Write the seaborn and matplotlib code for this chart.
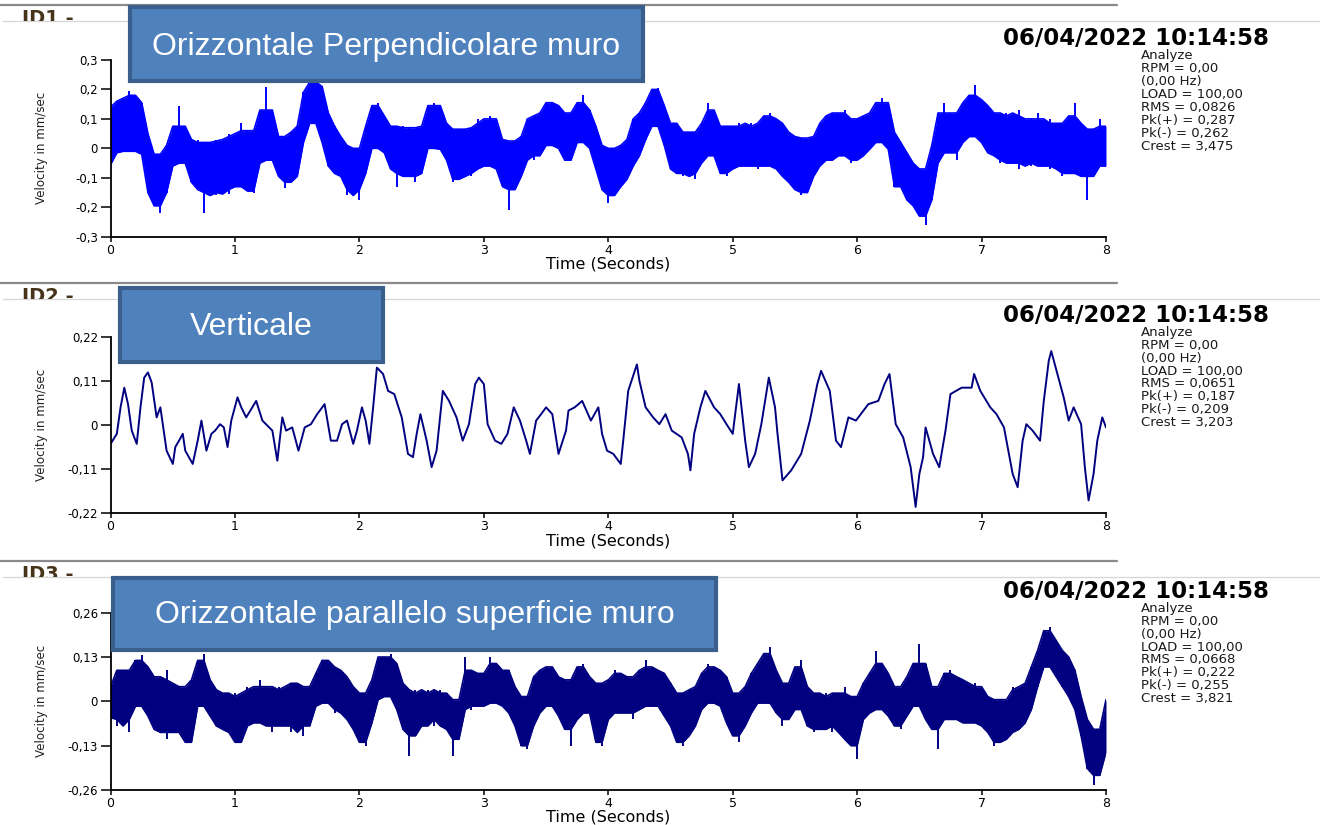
import numpy as np
import matplotlib
matplotlib.use("Agg")
import matplotlib.pyplot as plt
from matplotlib.patches import Rectangle
from matplotlib.lines import Line2D
from matplotlib.transforms import Bbox, TransformedBbox
import seaborn as sns

sns.set_theme(style="ticks")
plt.rcParams["font.family"] = ["DejaVu Sans"]

# ---------------------------------------------------------------------------
# Recorded velocity traces (mm/s), 8 s windows
# ---------------------------------------------------------------------------
SAMPLE_STEP = 0.05  # s between envelope samples of the dense channels

# ID1 - horizontal, perpendicular to the wall: upper / lower envelope
id1_upper = [
    0.14, 0.16, 0.17, 0.195, 0.18, 0.155, 0.05, -0.02, -0.045, 0.01,
    0.075, 0.145, 0.075, 0.02, 0.03, 0.0, 0.02, 0.03, 0.025, 0.05,
    0.04, 0.085, 0.06, 0.035, 0.13, 0.21, 0.13, 0.04, 0.02, 0.055,
    0.075, 0.19, 0.225, 0.23, 0.21, 0.12, 0.075, 0.04, 0.01, 0.0,
    -0.015, 0.075, 0.145, 0.155, 0.11, 0.075, 0.05, 0.075, 0.07, 0.04,
    0.075, 0.145, 0.155, 0.145, 0.085, 0.055, 0.065, 0.065, 0.07, 0.1,
    0.085, 0.11, 0.1, 0.03, 0.0, 0.025, 0.04, 0.1, 0.11, 0.12,
    0.155, 0.155, 0.145, 0.11, 0.12, 0.155, 0.18, 0.13, 0.075, 0.01,
    -0.015, 0.0, 0.01, 0.03, 0.1, 0.12, 0.155, 0.2, 0.205, 0.145,
    0.085, 0.085, 0.055, 0.055, 0.055, 0.085, 0.155, 0.13, 0.075, 0.065,
    0.075, 0.085, 0.075, 0.085, 0.075, 0.11, 0.12, 0.1, 0.085, 0.055,
    0.04, 0.035, 0.02, 0.04, 0.085, 0.11, 0.12, 0.12, 0.13, 0.085,
    0.1, 0.11, 0.12, 0.155, 0.17, 0.155, 0.055, 0.02, -0.015, -0.05,
    -0.07, -0.095, 0.01, 0.12, 0.155, 0.12, 0.12, 0.155, 0.18, 0.215,
    0.165, 0.145, 0.12, 0.11, 0.12, 0.11, 0.13, 0.085, 0.1, 0.12,
    0.085, 0.1, 0.085, 0.075, 0.11, 0.155, 0.085, 0.02, 0.065, 0.1,
    0.075,
]
id1_lower = [
    -0.055, -0.015, -0.01, 0.01, -0.01, -0.02, -0.15, -0.195, -0.22, -0.15,
    -0.06, 0.01, -0.05, -0.115, -0.14, -0.22, -0.15, -0.16, -0.14, -0.155,
    -0.13, -0.115, -0.145, -0.15, -0.05, 0.05, -0.04, -0.095, -0.135, -0.115,
    -0.095, 0.02, 0.085, 0.1, 0.02, -0.06, -0.085, -0.095, -0.16, -0.14,
    -0.175, -0.085, 0.0, 0.01, -0.015, -0.07, -0.13, -0.085, -0.095, -0.115,
    -0.085, 0.0, 0.01, -0.003, -0.04, -0.115, -0.105, -0.085, -0.095, -0.07,
    -0.06, -0.05, -0.07, -0.13, -0.21, -0.14, -0.095, -0.025, -0.04, -0.025,
    0.02, 0.01, 0.0, -0.04, -0.04, 0.02, 0.03, 0.0, -0.07, -0.14,
    -0.185, -0.16, -0.13, -0.105, -0.06, -0.025, 0.03, 0.075, 0.075, 0.01,
    -0.07, -0.085, -0.095, -0.085, -0.105, -0.05, 0.0, -0.025, -0.085, -0.095,
    -0.07, -0.06, -0.06, -0.05, -0.07, -0.06, -0.04, -0.07, -0.095, -0.115,
    -0.14, -0.16, -0.15, -0.095, -0.06, -0.04, -0.04, -0.025, -0.015, -0.05,
    -0.04, -0.025, -0.003, 0.02, 0.055, -0.003, -0.13, -0.13, -0.175, -0.195,
    -0.23, -0.26, -0.175, -0.05, 0.008, -0.015, -0.04, 0.02, 0.04, 0.055,
    0.02, -0.015, -0.025, -0.05, -0.04, -0.05, -0.07, -0.05, -0.06, -0.04,
    -0.06, -0.07, -0.05, -0.095, -0.085, 0.02, -0.095, -0.175, -0.095, -0.04,
    -0.06,
]

# ID2 - vertical: trace vertices (time in s, velocity in mm/s)
id2_time = [
    0.00, 0.05, 0.08, 0.11, 0.14, 0.17, 0.21, 0.24, 0.27, 0.30,
    0.33, 0.37, 0.40, 0.45, 0.50, 0.52, 0.55, 0.58, 0.60, 0.66,
    0.70, 0.73, 0.77, 0.81, 0.84, 0.88, 0.91, 0.94, 0.97, 1.02,
    1.05, 1.09, 1.17, 1.22, 1.30, 1.34, 1.38, 1.41, 1.46, 1.51,
    1.56, 1.61, 1.66, 1.72, 1.77, 1.82, 1.86, 1.90, 1.95, 1.98,
    2.02, 2.05, 2.08, 2.11, 2.14, 2.19, 2.23, 2.28, 2.34, 2.39,
    2.43, 2.46, 2.49, 2.54, 2.58, 2.62, 2.67, 2.72, 2.78, 2.83,
    2.88, 2.93, 2.96, 3.00, 3.03, 3.09, 3.14, 3.19, 3.24, 3.29,
    3.34, 3.37, 3.42, 3.46, 3.50, 3.55, 3.60, 3.66, 3.68, 3.73,
    3.79, 3.86, 3.92, 3.95, 3.99, 4.04, 4.10, 4.12, 4.16, 4.23,
    4.25, 4.30, 4.36, 4.41, 4.46, 4.51, 4.59, 4.64, 4.66, 4.69,
    4.74, 4.78, 4.85, 4.90, 4.95, 5.00, 5.05, 5.10, 5.13, 5.18,
    5.23, 5.29, 5.34, 5.36, 5.40, 5.47, 5.55, 5.62, 5.68, 5.71,
    5.78, 5.83, 5.87, 5.93, 5.99, 6.09, 6.17, 6.22, 6.26, 6.31,
    6.37, 6.43, 6.47, 6.50, 6.53, 6.55, 6.61, 6.66, 6.71, 6.75,
    6.84, 6.92, 6.94, 6.99, 7.07, 7.12, 7.18, 7.20, 7.25, 7.29,
    7.33, 7.36, 7.41, 7.47, 7.50, 7.54, 7.56, 7.61, 7.66, 7.70,
    7.74, 7.80, 7.83, 7.86, 7.90, 7.93, 7.97, 8.00,
]
id2_velocity = [
    -0.047, -0.022, 0.044, 0.093, 0.052, -0.014, -0.047, 0.044, 0.118, 0.131,
    0.106, 0.019, 0.044, -0.064, -0.097, -0.055, -0.039, -0.022, -0.064, -0.097,
    -0.039, 0.011, -0.064, -0.022, -0.014, 0.002, -0.006, -0.055, 0.011, 0.069,
    0.044, 0.019, 0.060, 0.011, -0.014, -0.089, 0.019, -0.014, -0.006, -0.064,
    -0.006, 0.002, 0.027, 0.052, -0.039, -0.039, 0.002, 0.011, -0.047, -0.014,
    0.044, 0.011, -0.047, 0.044, 0.143, 0.127, 0.085, 0.077, 0.019, -0.072,
    -0.080, -0.022, 0.027, -0.039, -0.105, -0.064, 0.085, 0.060, 0.019, -0.039,
    0.002, 0.102, 0.118, 0.102, 0.002, -0.039, -0.047, -0.022, 0.044, 0.011,
    -0.039, -0.072, 0.011, 0.027, 0.044, 0.027, -0.072, -0.014, 0.036, 0.044,
    0.060, 0.011, 0.044, -0.022, -0.064, -0.072, -0.097, -0.039, 0.085, 0.151,
    0.110, 0.044, 0.019, 0.002, 0.027, -0.014, -0.031, -0.072, -0.113, -0.022,
    0.044, 0.085, 0.044, 0.027, 0.002, -0.022, 0.102, -0.039, -0.105, -0.072,
    0.002, 0.118, 0.044, -0.022, -0.138, -0.113, -0.072, 0.011, 0.102, 0.135,
    0.085, -0.039, -0.055, 0.019, 0.011, 0.052, 0.060, 0.102, 0.127, 0.002,
    -0.031, -0.105, -0.204, -0.122, -0.080, -0.006, -0.072, -0.105, -0.014, 0.077,
    0.093, 0.093, 0.127, 0.085, 0.044, 0.027, -0.006, -0.039, -0.122, -0.155,
    -0.039, 0.002, -0.014, -0.039, 0.060, 0.160, 0.184, 0.127, 0.069, 0.011,
    0.044, 0.002, -0.105, -0.188, -0.122, -0.039, 0.019, -0.006,
]

# ID3 - horizontal, parallel to the wall surface: upper / lower envelope
id3_upper = [
    0.043, 0.091, 0.091, 0.063, 0.12, 0.135, 0.101, 0.072, 0.063, 0.091,
    0.053, 0.043, 0.014, 0.063, 0.12, 0.14, 0.063, 0.034, 0.024, 0.014,
    0.024, -0.014, 0.043, 0.034, 0.063, 0.043, 0.014, 0.043, 0.034, 0.053,
    0.053, 0.005, 0.043, 0.082, 0.12, 0.12, 0.101, 0.091, 0.072, 0.043,
    0.024, -0.005, 0.063, 0.13, 0.13, 0.14, 0.111, 0.053, 0.005, 0.034,
    0.024, 0.034, 0.024, 0.034, 0.024, 0.005, -0.014, 0.13, 0.091, 0.072,
    0.082, 0.13, 0.111, 0.091, 0.091, 0.043, 0.014, 0.014, 0.072, 0.091,
    0.101, 0.101, 0.072, 0.063, 0.063, 0.101, 0.111, 0.072, 0.053, 0.034,
    0.063, 0.091, 0.082, 0.072, 0.043, 0.091, 0.12, 0.101, 0.091, 0.082,
    0.053, 0.014, 0.024, 0.034, 0.043, 0.082, 0.111, 0.101, 0.091, 0.072,
    0.024, 0.014, 0.043, 0.082, 0.111, 0.14, 0.159, 0.091, 0.053, 0.043,
    0.101, 0.12, 0.043, 0.024, 0.014, 0.024, 0.005, 0.024, 0.043, 0.014,
    0.005, 0.053, 0.082, 0.149, 0.111, 0.082, 0.043, 0.034, 0.072, 0.111,
    0.169, 0.111, 0.043, 0.014, 0.082, 0.091, 0.072, 0.063, 0.043, 0.053,
    0.043, 0.014, 0.005, 0.005, -0.005, 0.043, 0.034, 0.053, 0.101, 0.149,
    0.207, 0.217, 0.178, 0.149, 0.13, 0.091, 0.014, -0.053, -0.12, -0.082,
    0.005,
]
id3_lower = [
    -0.048, -0.072, -0.053, -0.091, -0.014, 0.014, -0.043, -0.082, -0.091, -0.111,
    -0.082, -0.091, -0.12, -0.12, -0.014, 0.005, -0.043, -0.072, -0.082, -0.091,
    -0.12, -0.12, -0.072, -0.063, -0.053, -0.072, -0.091, -0.072, -0.072, -0.091,
    -0.072, -0.101, -0.072, -0.014, -0.005, 0.005, -0.034, -0.024, -0.053, -0.082,
    -0.12, -0.13, -0.063, 0.005, 0.014, 0.014, -0.024, -0.082, -0.159, -0.101,
    -0.072, -0.053, -0.072, -0.053, -0.082, -0.159, -0.111, 0.005, -0.024, -0.014,
    -0.014, -0.005, 0.005, -0.014, -0.034, -0.072, -0.13, -0.14, -0.072, -0.034,
    -0.014, -0.014, -0.043, -0.082, -0.13, -0.053, -0.024, -0.034, -0.12, -0.13,
    -0.053, -0.034, -0.014, -0.034, -0.053, -0.024, -0.005, -0.014, -0.014, -0.043,
    -0.072, -0.12, -0.13, -0.101, -0.072, -0.024, 0.005, -0.005, -0.014, -0.063,
    -0.101, -0.12, -0.072, -0.034, -0.005, -0.005, 0.005, -0.034, -0.072, -0.053,
    -0.024, -0.014, -0.072, -0.091, -0.082, -0.072, -0.091, -0.072, -0.111, -0.13,
    -0.169, -0.053, -0.034, -0.005, -0.024, -0.043, -0.072, -0.082, -0.043, -0.014,
    0.024, -0.053, -0.082, -0.14, -0.053, -0.034, -0.053, -0.063, -0.063, -0.053,
    -0.072, -0.091, -0.13, -0.12, -0.111, -0.091, -0.082, -0.063, -0.024, 0.043,
    0.101, 0.101, 0.072, 0.043, 0.014, -0.024, -0.101, -0.197, -0.245, -0.217,
    -0.149,
]

# Axis scales and tick labels (decimal comma)
x_ticks = [0, 1, 2, 3, 4, 5, 6, 7, 8]
x_tick_labels = ["0", "1", "2", "3", "4", "5", "6", "7", "8"]
id1_y_ticks = [0.3, 0.2, 0.1, 0.0, -0.1, -0.2, -0.3]
id1_y_labels = ["0,3", "0,2", "0,1", "0", "-0,1", "-0,2", "-0,3"]
id2_y_ticks = [0.22, 0.11, 0.0, -0.11, -0.22]
id2_y_labels = ["0,22", "0,11", "0", "-0,11", "-0,22"]
id3_y_ticks = [0.26, 0.13, 0.0, -0.13, -0.26]
id3_y_labels = ["0,26", "0,13", "0", "-0,13", "-0,26"]

# Header texts
channel_ids = ["ID1 -", "ID2 -", "ID3 -"]
channel_titles = [
    "Orizzontale Perpendicolare muro",
    "Verticale",
    "Orizzontale parallelo superficie muro",
]
timestamp = "06/04/2022 10:14:58"
stats_common = ["Analyze", "RPM = 0,00", "(0,00 Hz)", "LOAD = 100,00"]
id1_stats = ["RMS = 0,0826", "Pk(+) = 0,287", "Pk(-) = 0,262", "Crest = 3,475"]
id2_stats = ["RMS = 0,0651", "Pk(+) = 0,187", "Pk(-) = 0,209", "Crest = 3,203"]
id3_stats = ["RMS = 0,0668", "Pk(+) = 0,222", "Pk(-) = 0,255", "Crest = 3,821"]

# ---------------------------------------------------------------------------
# Figure layout (pixel based helpers)
# ---------------------------------------------------------------------------
W, H = 1320, 825
fig = plt.figure(figsize=(W / 100, H / 100), dpi=100, facecolor="white")


def fx(px):
    return px / W


def fy(py):
    return 1 - py / H


def median3(values):
    """Median of each sample and its two neighbours (edges repeated)."""
    padded = np.pad(np.asarray(values, dtype=float), 1, mode="edge")
    return np.median(np.vstack([padded[:-2], padded[1:-1], padded[2:]]), axis=0)


AX_LEFT, AX_RIGHT = 110.6, 1106.0

panels = [
    dict(kind="band", upper=id1_upper, lower=id1_lower, color="#0000ff",
         top=60.0, bottom=236.7, lim=0.3, yticks=id1_y_ticks, ylabels=id1_y_labels,
         stats=id1_stats, rule=5, thin=21, box=(130, 643, 7, 81), base=55),
    dict(kind="line", color="#000080",
         top=336.7, bottom=513.3, lim=0.22, yticks=id2_y_ticks, ylabels=id2_y_labels,
         stats=id2_stats, rule=283, thin=299, box=(120, 383, 288, 362), base=335),
    dict(kind="band", upper=id3_upper, lower=id3_lower, color="#000080",
         top=612.7, bottom=790.0, lim=0.26, yticks=id3_y_ticks, ylabels=id3_y_labels,
         stats=id3_stats, rule=561, thin=577, box=(113, 716, 578, 650), base=623),
]

for i, p in enumerate(panels):
    ax = fig.add_axes([fx(AX_LEFT), fy(p["bottom"]),
                       fx(AX_RIGHT) - fx(AX_LEFT), (p["bottom"] - p["top"]) / H])
    ax.set_facecolor("white")

    if p["kind"] == "band":
        up = np.asarray(p["upper"])
        lo = np.asarray(p["lower"])
        t = np.arange(len(up)) * SAMPLE_STEP
        # body of the dense signal, then the full swing of every sample as spikes
        body_up = np.maximum(median3(up), median3(lo) + 0.02)
        body_lo = median3(lo)
        ax.fill_between(t, body_lo, body_up, color=p["color"], lw=0)
        for edge in (body_up, body_lo):
            sns.lineplot(x=t, y=edge, ax=ax, color=p["color"], lw=1.2,
                         estimator=None)
        ax.vlines(t, lo, up, color=p["color"], lw=1.4)
    else:
        sns.lineplot(x=id2_time, y=id2_velocity, ax=ax, color=p["color"],
                     lw=1.4, estimator=None, sort=False)

    ax.set_xlim(0, 8)
    ax.set_ylim(-p["lim"], p["lim"])
    ax.set_xticks(x_ticks)
    ax.set_xticklabels(x_tick_labels)
    ax.set_yticks(p["yticks"])
    ax.set_yticklabels(p["ylabels"])
    ax.grid(False)
    for side in ("top", "right"):
        ax.spines[side].set_visible(False)
    for side in ("left", "bottom"):
        ax.spines[side].set_color("black")
        ax.spines[side].set_linewidth(1.3)
    ax.tick_params(axis="y", direction="out", length=7.5, width=1.1, pad=1.5,
                   labelsize=8.5, colors="black")
    ax.tick_params(axis="x", direction="out", length=3.5, width=1.1, pad=1.5,
                   labelsize=9, colors="black")
    ax.set_xlabel("Time (Seconds)", fontsize=11.5, color="black", labelpad=0)
    ax.set_ylabel("Velocity in mm/sec", fontsize=8.6, color="#222222")
    ax.yaxis.set_label_coords(-0.063, 0.5)

    # separator rules between the channel blocks
    fig.add_artist(Line2D([0, fx(1117)], [fy(p["rule"])] * 2,
                          color="#8a8a8a", lw=1.6))
    fig.add_artist(Line2D([fx(3), 1], [fy(p["thin"])] * 2,
                          color="#d6d6d6", lw=0.9))

    # channel id, cut off by the thin rule
    id_text = fig.text(fx(22), fy(p["rule"] + 19.5), channel_ids[i],
                       ha="left", va="baseline", fontsize=14, fontweight="bold",
                       color="#46331a")
    clip = TransformedBbox(Bbox([[0, fy(p["thin"] - 0.5)], [fx(400), fy(p["rule"] + 1)]]),
                           fig.transFigure)
    id_text.set_clip_box(clip)
    id_text.set_clip_on(True)

    # timestamp and analysis summary
    fig.text(fx(1136), fy(p["top"] - 21.5), timestamp, ha="center", va="center",
             fontsize=16.5, fontweight="bold", color="black")
    for k, line in enumerate(stats_common + p["stats"]):
        fig.text(fx(1141), fy(p["top"] - 4.5 + k * 12.95), line, ha="left",
                 va="center", fontsize=9.5, color="#1a1a1a")

    # channel title callout
    x0, x1, y0, y1 = p["box"]
    fig.add_artist(Rectangle((fx(x0), fy(y1)), fx(x1) - fx(x0), (y1 - y0) / H,
                             transform=fig.transFigure, facecolor="#4f81bd",
                             edgecolor="#3a5f8c", lw=3, zorder=5))
    fig.text(fx((x0 + x1) / 2), fy(p["base"]), channel_titles[i], ha="center",
             va="baseline", fontsize=23, color="white", zorder=6,
             family=["Liberation Sans", "DejaVu Sans"])

fig.savefig("out.png", dpi=100, facecolor="white")
